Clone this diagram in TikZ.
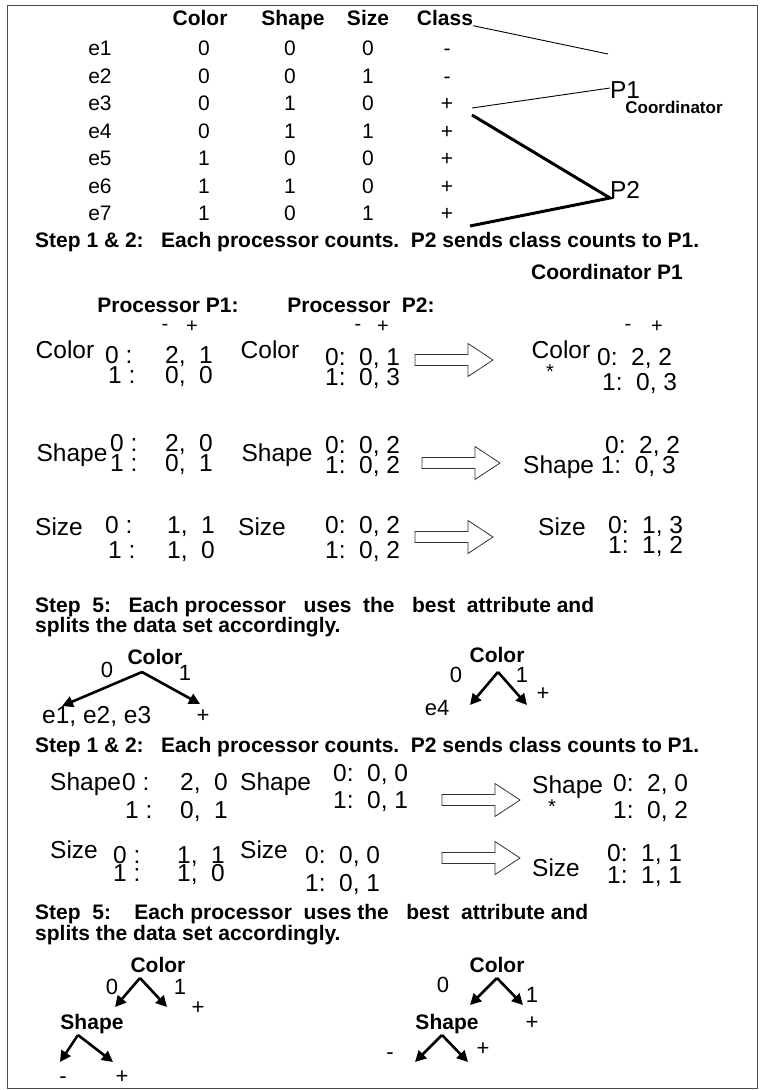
\documentclass[tikz,border=0pt]{standalone}
\usepackage{fontspec}
\setmainfont{Liberation Sans}
\usetikzlibrary{arrows.meta}
% hollow block arrow, drawn from its left end
\newcommand{\fatarrow}[1]{\draw[fat] (#1) ++(0,-5.5) -- ++(53,0) -- ++(0,-11) -- ++(25,16.5)
  -- ++(-25,16.5) -- ++(0,-11) -- ++(-53,0) -- cycle;}

\begin{document}
\begin{tikzpicture}[x=1pt,y=-1pt,
  hd/.style={font=\bfseries\fontsize{21}{21}\selectfont,inner sep=0pt,text height=15pt,text depth=0pt},
  tb/.style={font=\fontsize{21}{21}\selectfont,inner sep=0pt,text height=15pt,text depth=0pt},
  ct/.style={font=\fontsize{24.5}{24.5}\selectfont,inner sep=0pt,text height=17.5pt,text depth=0pt},
  cw/.style={ct,anchor=west},
  sg/.style={font=\fontsize{20}{20}\selectfont,inner sep=0pt},
  st/.style={font=\bfseries\fontsize{21}{21}\selectfont,inner sep=0pt,anchor=west,text height=15pt,text depth=0pt},
  tl/.style={font=\fontsize{22}{22}\selectfont,inner sep=0pt,text height=15.8pt,text depth=0pt},
  thinln/.style={line width=0.9pt},
  thickln/.style={line width=3pt},
  tarr/.style={line width=2.6pt,-{Triangle[length=11pt,width=11pt]}},
  fat/.style={line width=0.8pt,draw=black!80,fill=white}]
  \useasboundingbox (0,0) rectangle (765,1090);
  \draw[black!70,line width=1pt] (7,5) rectangle (757,1088);
  % data table
  \node[hd] (hcol) at (200,18) {Color};
  \node[hd] (hshp) at (293,18) {Shape};
  \node[hd] (hsiz) at (368,18) {Size};
  \node[hd] (cls) at (445,18) {Class};
  \foreach \i/\c/\s/\z/\k in {1/0/0/0/-,2/0/0/1/-,3/0/1/0/+,4/0/1/1/+,5/1/0/0/+,6/1/1/0/+,7/1/0/1/+}{
    \pgfmathsetmacro\yy{48+27.5*(\i-1)}
    \node[tb] (e\i) at (100,\yy) {e\i};
    \node[tb] (col\i) at (204,\yy) {\c};
    \node[tb] (shp\i) at (290,\yy) {\s};
    \node[tb] (siz\i) at (368,\yy) {\z};
    \node[tb] (k\i) at (447,\yy) {\k};
  }
  % split of the data between P1 and P2
  \node[ct] (p1) at (625,90) {P1};
  \node[font=\bfseries\fontsize{17}{17}\selectfont,inner sep=0pt] (crd) at (674,107) {Coordinator};
  \node[ct] (p2) at (625,190) {P2};
  \coordinate (p1a) at (608,54);
  \coordinate (p1b) at (610,88);
  \coordinate (p2a) at (610,198);
  \coordinate (s3) at (472,108);
  \coordinate (s4) at (472,115);
  \coordinate (s7) at (470,226);
  \draw[thinln] (cls.south east) -- (p1a);
  \draw[thinln] (s3) -- (p1b);
  \draw[thickln] (s4) -- (p2a) -- (s7);
  % round one: counts
  \node[st] (step1) at (35,240) {Step 1 \& 2:\ \ \ Each processor counts.\ \ P2 sends class counts to P1.};
  \node[hd] (crdp1) at (607,272) {Coordinator P1};
  \node[hd] (prc1) at (168,305) {Processor P1:};
  \node[hd] (prc2) at (361,305) {Processor\ \ P2:};
  \foreach \n/\x/\t in {m1/165/-,q1/192/+,m2/358/-,q2/383/+,m3/628/-,q3/657/+}
    \node[sg] (\n) at (\x,327) {\t};
  \node[ct] (aCol) at (65,350) {Color};
  \node[ct] (aShp) at (72,453) {Shape};
  \node[ct] (aSiz) at (59,527) {Size};
  \node[ct] (bCol) at (270,350) {Color};
  \node[ct] (bShp) at (277,453) {Shape};
  \node[ct] (bSiz) at (262,527) {Size};
  \node[ct] (cCol) at (561,350) {Color};
  \node[ct] (cSiz) at (562,527) {Size};
  \node[sg] (cStar) at (550,372) {*};
  \foreach \n/\x/\y/\t in {aCol0/105/355/0 :,aCol0v/165/355/{2,\ \ 1},aCol1/108/375/1 :,aCol1v/165/375/{0,\ \ 0},
      aShp0/110/443/0 :,aShp0v/165/443/{2,\ \ 0},aShp1/110/463/1 :,aShp1v/165/463/{0,\ \ 1},
      aSiz0/105/525/0 :,aSiz0v/167/525/{1,\ \ 1},aSiz1/108/550/1 :,aSiz1v/167/550/{1,\ \ 0},
      bCol0/325/357/{0:\ \ 0, 1},bCol1/325/377/{1:\ \ 0, 3},bShp0/325/445/{0:\ \ 0, 2},bShp1/325/465/{1:\ \ 0, 2},
      bSiz0/325/525/{0:\ \ 0, 2},bSiz1/325/550/{1:\ \ 0, 2},
      cCol0/597/357/{0:\ \ 2, 2},cCol1/602/382/{1:\ \ 0, 3},cShp0/605/445/{0:\ \ 2, 2},cShp1/523/465/{Shape 1:\ \ 0, 3},
      cSiz0/608/525/{0:\ \ 1, 3},cSiz1/608/545/{1:\ \ 1, 2}}
    \node[cw] (\n) at (\x,\y) {\t};
  \fatarrow{415,360}
  \fatarrow{422,463}
  \fatarrow{415,537}
  % round one: split
  \node[st] (step5a) at (35,605) {Step\ \ 5:\ \ \ Each processor\ \ \ uses\ \ the\ \ \ best\ \ attribute and};
  \node[st] (step5b) at (35,625) {splits the data set accordingly.};
  \node[hd] (t1) at (155,657) {Color};
  \node[tl] (t1z) at (107,670) {0};
  \node[tl] (t1o) at (185,673) {1};
  \coordinate (t1r) at (142,672);
  \coordinate (t1a) at (62,706);
  \coordinate (t1b) at (200,704);
  \draw[tarr] (t1r) -- (t1a);
  \draw[tarr] (t1r) -- (t1b);
  \node[ct,anchor=west] (t1l) at (42,715) {e1, e2, e3};
  \node[tl] (t1p) at (203,715) {+};
  \node[hd] (t2) at (497,655) {Color};
  \node[tl] (t2z) at (456,675) {0};
  \node[tl] (t2o) at (522,675) {1};
  \coordinate (t2r) at (498,672);
  \coordinate (t2a) at (470,705);
  \coordinate (t2b) at (527,705);
  \draw[tarr] (t2r) -- (t2a);
  \draw[tarr] (t2r) -- (t2b);
  \node[tl] (t2l) at (437,708) {e4};
  \node[tl] (t2p) at (543,693) {+};
  % round two: counts
  \node[st] (step1b) at (35,745) {Step 1 \& 2:\ \ \ Each processor counts.\ \ P2 sends class counts to P1.};
  \node[sg] (dStar) at (552,807) {*};
  \foreach \n/\x/\y/\t in {dShp/50/782/Shape,dShp0/122/782/0 :,dShp0v/180/782/{2,\ \ 0},dShp1/125/810/1 :,dShp1v/180/810/{0,\ \ 1},
      dSiz/50/850/Size,dSiz0/113/855/0 :,dSiz0v/177/855/{1,\ \ 1},dSiz1/113/873/1 :,dSiz1v/177/873/{1,\ \ 0},
      eShp/240/782/Shape,eShp0/333/773/{0:\ \ 0, 0},eShp1/333/800/{1:\ \ 0, 1},
      eSiz/240/850/Size,eSiz0/305/855/{0:\ \ 0, 0},eSiz1/305/883/{1:\ \ 0, 1},
      fShp/532/785/Shape,fShp0/613/783/{0:\ \ 2, 0},fShp1/613/810/{1:\ \ 0, 2},
      fSiz/532/868/Size,fSiz0/607/853/{0:\ \ 1, 1},fSiz1/607/875/{1:\ \ 1, 1}}
    \node[cw] (\n) at (\x,\y) {\t};
  \fatarrow{442,800}
  \fatarrow{442,858}
  % round two: split
  \node[st] (step5c) at (35,912) {Step\ \ 5:\ \ \ \ Each processor\ \ uses the\ \ \ best\ \ attribute and};
  \node[st] (step5d) at (35,933) {splits the data set accordingly.};
  \node[hd] (t3) at (158,965) {Color};
  \node[tl] (t3z) at (112,987) {0};
  \node[tl] (t3o) at (180,987) {1};
  \node[tl] (t3p) at (198,1007) {+};
  \coordinate (t3r) at (140,978);
  \coordinate (t3a) at (115,1007);
  \coordinate (t3b) at (167,1007);
  \draw[tarr] (t3r) -- (t3a);
  \draw[tarr] (t3r) -- (t3b);
  \node[hd] (t3s) at (92,1022) {Shape};
  \coordinate (t3sr) at (78,1035);
  \coordinate (t3sa) at (60,1062);
  \coordinate (t3sb) at (113,1062);
  \draw[tarr] (t3sr) -- (t3sa);
  \draw[tarr] (t3sr) -- (t3sb);
  \node[tl] (t3m) at (63,1076) {-};
  \node[tl] (t3q) at (122,1076) {+};
  \node[hd] (t4) at (497,965) {Color};
  \node[tl] (t4z) at (443,985) {0};
  \node[tl] (t4o) at (532,995) {1};
  \coordinate (t4r) at (497,978);
  \coordinate (t4a) at (470,1005);
  \coordinate (t4b) at (523,1005);
  \draw[tarr] (t4r) -- (t4a);
  \draw[tarr] (t4r) -- (t4b);
  \node[hd] (t4s) at (447,1022) {Shape};
  \node[tl] (t4p) at (532,1022) {+};
  \coordinate (t4sr) at (442,1035);
  \coordinate (t4sa) at (415,1062);
  \coordinate (t4sb) at (468,1062);
  \draw[tarr] (t4sr) -- (t4sa);
  \draw[tarr] (t4sr) -- (t4sb);
  \node[tl] (t4m) at (390,1052) {-};
  \node[tl] (t4q) at (483,1048) {+};
\end{tikzpicture}
\end{document}
